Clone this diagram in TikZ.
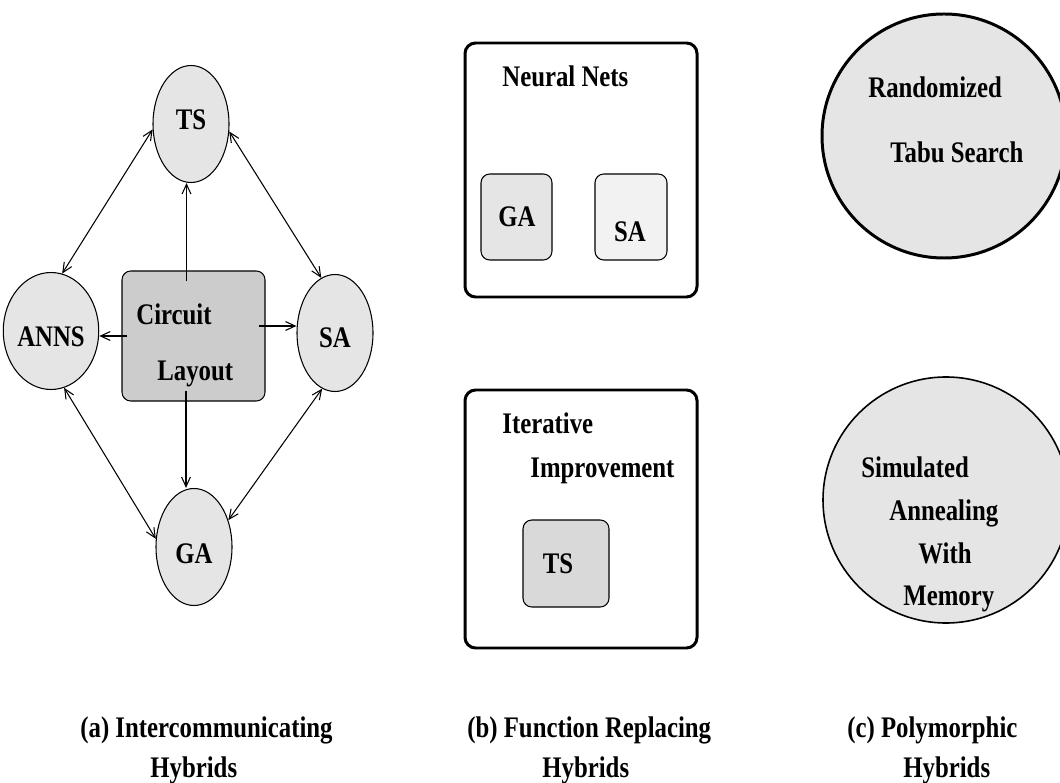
\documentclass[tikz,border=0pt]{standalone}
\usepackage{fontspec}
\setmainfont{Liberation Serif}[FakeStretch=0.83]
\usepackage{tikz}
\usetikzlibrary{shapes.geometric,arrows.meta}
\newcommand{\pxu}{0.02cm}

\begin{document}
\begin{tikzpicture}[x=0.02cm,y=-0.02cm,
  wt/.style={font=\bfseries\fontsize{17}{20}\selectfont,inner sep=0pt},
  ell/.style={wt,ellipse,draw,fill=black!10,line width=0.6pt,minimum width=76*\pxu,minimum height=117*\pxu},
  lbox/.style={draw,fill=black!20,line width=0.6pt,rounded corners=5pt,minimum width=143*\pxu,minimum height=130*\pxu,inner sep=0pt},
  cbox/.style={draw,line width=1.7pt,rounded corners=6pt,inner sep=0pt,minimum width=232*\pxu},
  sbox/.style={draw,line width=0.6pt,rounded corners=5pt,inner sep=0pt},
  disc/.style={circle,draw,fill=black!10,inner sep=0pt},
  arr/.style={line width=0.6pt,-{Straight Barb[length=5.5pt,width=5pt]}},
  darr/.style={line width=0.6pt,{Straight Barb[length=5.5pt,width=5pt]}-{Straight Barb[length=5.5pt,width=5pt]}}]
\useasboundingbox (0,0) rectangle (1060,783);
\node[ell,text height=11.3pt,text depth=4.5pt] (ts) at (191,124) {TS};
\node[ell,text height=18pt,text depth=0pt] (anns) at (51,331) {ANNS};
\node[ell,text height=16pt,text depth=0pt] (sa) at (335,333) {SA};
\node[ell,text height=19pt,text depth=0pt] (ga) at (194,547) {GA};
\node[lbox] (lay) at (193.5,336) {};
\node[wt,anchor=base west] (lay1) at (136,325) {Circuit};
\node[wt,anchor=base west] (lay2) at (157,380) {Layout};
\draw[darr] (ts.188) -- (anns.79);
\draw[darr] (ts.-11) -- (sa.104);
\draw[darr] (anns.-77) -- (ga.168);
\draw[darr] (sa.257) -- (ga.38);
\draw[arr] ([shift={(-7,11)}]lay.north) coordinate (p1) -- (p1 |- ts.south);
\draw[arr] ([shift={(-7.5,-11)}]lay.south) coordinate (p2) -- (p2 |- ga.north);
\draw[arr] ([shift={(6,0)}]lay.west) coordinate (p3) -- (p3 -| anns.east);
\draw[arr] ([shift={(-7,-10)}]lay.east) coordinate (p4) -- (p4 -| sa.west);
\node[cbox,minimum height=254*\pxu] (nn) at (581,170) {};
\node[wt,anchor=base west] (nnt) at (502,87) {Neural Nets};
\node[sbox,fill=black!10,minimum width=71*\pxu,minimum height=86*\pxu] (gab) at (516.5,217) {};
\node[wt,anchor=base] (gabt) at (517,227) {GA};
\node[sbox,fill=black!5,minimum width=72*\pxu,minimum height=86*\pxu] (sab) at (631,217) {};
\node[wt,anchor=base] (sabt) at (630,242) {SA};
\node[cbox,minimum height=258*\pxu] (ii) at (581,519) {};
\node[wt,anchor=base west] (iit1) at (502,433) {Iterative};
\node[wt,anchor=base west] (iit2) at (530,477) {Improvement};
\node[sbox,fill=black!15,minimum width=86*\pxu,minimum height=87*\pxu] (tsb) at (566,563.5) {};
\node[wt,anchor=base] (tsbt) at (558,573) {TS};
\node[disc,line width=1.7pt,minimum size=244*\pxu] (rts) at (944,136) {};
\node[wt,anchor=base west] (rts1) at (868,98) {Randomized};
\node[wt,anchor=base west] (rts2) at (890,163) {Tabu Search};
\node[disc,line width=0.9pt,minimum size=246*\pxu] (sawm) at (946,500) {};
\node[wt,anchor=base west] (sawm1) at (861,477) {Simulated};
\node[wt,anchor=base west] (sawm2) at (889,520) {Annealing};
\node[wt,anchor=base west] (sawm3) at (918,563) {With};
\node[wt,anchor=base west] (sawm4) at (903,605) {Memory};
\node[wt,anchor=base west] (capa1) at (80,737) {(a) Intercommunicating};
\node[wt,anchor=base west] (capa2) at (150,777) {Hybrids};
\node[wt,anchor=base west] (capb1) at (467,737) {(b) Function Replacing};
\node[wt,anchor=base west] (capb2) at (542,777) {Hybrids};
\node[wt,anchor=base west] (capc1) at (847,737) {(c) Polymorphic};
\node[wt,anchor=base west] (capc2) at (903,777) {Hybrids};
\end{tikzpicture}
\end{document}
